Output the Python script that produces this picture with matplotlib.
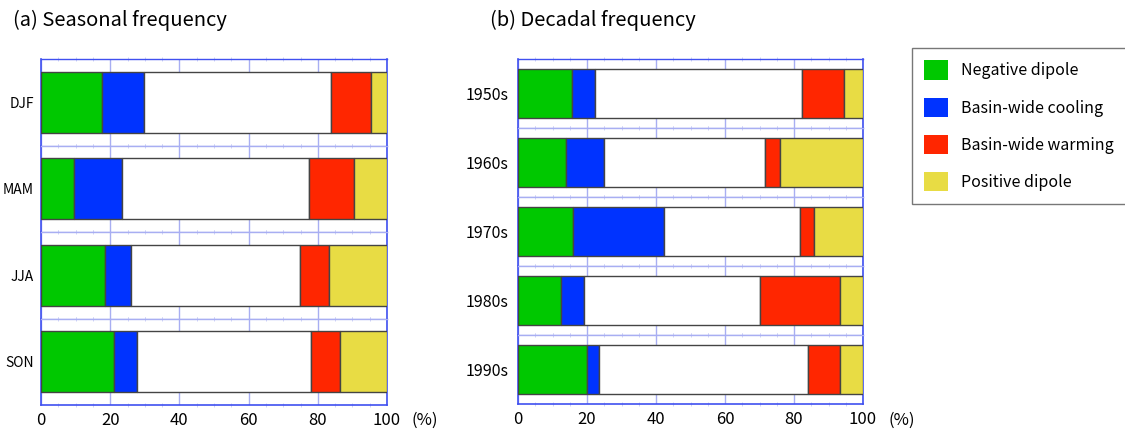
import numpy as np
import matplotlib
matplotlib.use('Agg')
import matplotlib.pyplot as plt
from matplotlib.patches import Patch
from matplotlib.ticker import MultipleLocator

plt.rcParams['font.family'] = ['Noto Sans CJK JP', 'DejaVu Sans']

# Frequency (%) of each mode; remainder up to 100 is the neutral (white) part
seasons = ['DJF', 'MAM', 'JJA', 'SON']
season_neg = [17.6, 9.4, 18.4, 21.0]
season_cool = [12.3, 13.9, 7.5, 6.8]
season_warm = [11.6, 12.9, 8.3, 8.4]
season_pos = [4.6, 9.5, 16.8, 13.5]

decades = ['1950s', '1960s', '1970s', '1980s', '1990s']
decade_neg = [15.7, 14.0, 15.8, 12.5, 20.0]
decade_cool = [6.5, 11.0, 26.6, 6.6, 3.4]
decade_warm = [12.1, 4.2, 4.2, 23.4, 9.2]
decade_pos = [5.5, 24.2, 14.2, 6.6, 6.6]

labels = ['Negative dipole', 'Basin-wide cooling', 'Basin-wide warming', 'Positive dipole']
colors = ['#00c800', '#0033ff', '#ff2600', '#e8dc44']

outer_blue = '#4050f0'
inner_blue = '#a8aef2'


def draw_panel(fig, rect, cats, neg, cool, warm, pos, title, ysize, ypad):
    left, bottom, width, height = rect
    n = len(cats)
    h = height / n
    for i, cat in enumerate(cats):
        ax = fig.add_axes([left, bottom + height - (i + 1) * h, width, h])
        neutral = 100 - neg[i] - cool[i] - warm[i] - pos[i]
        parts = [neg[i], cool[i], neutral, warm[i], pos[i]]
        cols = [colors[0], colors[1], 'white', colors[2], colors[3]]
        start = 0
        for val, c in zip(parts, cols):
            ax.barh(0.5, val, left=start, height=0.7, color=c,
                    edgecolor='#444444', linewidth=1.0, zorder=3)
            start += val
        ax.set_xlim(0, 100)
        ax.set_ylim(0, 1)
        ax.set_xticks([0, 20, 40, 60, 80, 100])
        ax.xaxis.set_minor_locator(MultipleLocator(5))
        ax.grid(axis='x', which='major', color=inner_blue, linewidth=1.0, zorder=0)
        ax.set_yticks([0.5])
        ax.set_yticklabels([cat], fontsize=ysize)
        ax.tick_params(axis='y', length=0, pad=ypad)
        ax.tick_params(axis='x', which='both', direction='inout', top=True,
                       bottom=True, color='#c8ccf6', length=0)
        ax.tick_params(axis='x', which='minor', length=3)
        for s in ['left', 'right']:
            ax.spines[s].set_color(outer_blue)
            ax.spines[s].set_linewidth(1.2)
        for s in ['top', 'bottom']:
            ax.spines[s].set_color(inner_blue)
            ax.spines[s].set_linewidth(1.0)
        if i == 0:
            ax.spines['top'].set_color(outer_blue)
            ax.set_title(title, loc='left', x=-0.08, fontsize=14.5, pad=24)
        if i == n - 1:
            ax.spines['bottom'].set_color(outer_blue)
            ax.spines['bottom'].set_linewidth(1.2)
            ax.tick_params(axis='x', which='major', labelsize=12, pad=5)
        else:
            ax.set_xticklabels([])


fig = plt.figure(figsize=(11.25, 4.32), dpi=100)

draw_panel(fig, [41 / 1125, 1 - 405 / 432, 346 / 1125, 346 / 432],
           seasons, season_neg, season_cool, season_warm, season_pos,
           '(a) Seasonal frequency', 10, 5)
draw_panel(fig, [518 / 1125, 1 - 404 / 432, 345 / 1125, 345 / 432],
           decades, decade_neg, decade_cool, decade_warm, decade_pos,
           '(b) Decadal frequency', 11.5, 7)

fig.text(425 / 1125, 1 - 420 / 432, '(%)', fontsize=12, ha='center', va='center')
fig.text(902 / 1125, 1 - 420 / 432, '(%)', fontsize=12, ha='center', va='center')

handles = [Patch(facecolor=c, edgecolor='none') for c in colors]
fig.legend(handles, labels, loc='upper left', bbox_to_anchor=(912 / 1125, 1 - 48 / 432),
           fontsize=11.5, frameon=True, fancybox=False, edgecolor='#555555',
           handlelength=1.5, handleheight=1.5, labelspacing=1.1,
           borderpad=0.78, handletextpad=0.8, borderaxespad=0)

fig.savefig('out.png', dpi=100)
